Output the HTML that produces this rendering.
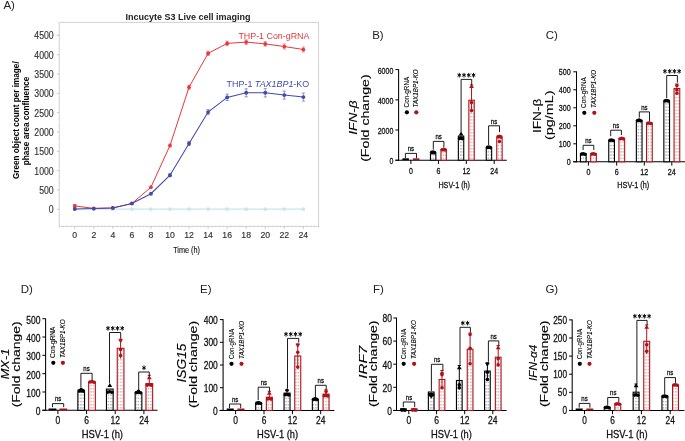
<!DOCTYPE html><html><head><meta charset="utf-8"><title>Figure</title><style>html,body{margin:0;padding:0;background:#fff;width:685px;height:441px;overflow:hidden}svg{display:block;will-change:transform;font-family:"Liberation Sans",sans-serif}.bp text{stroke:#111;stroke-width:0.28px}.bp text.lt{stroke-width:0.12px}.bp text.lg{stroke-width:0.1px}.bp text.pl{stroke:none}</style></head><body>
<svg width="685" height="441" viewBox="0 0 685 441">
<defs><pattern id="pk" width="2.5" height="3.2" patternUnits="userSpaceOnUse"><rect width="2.5" height="3.2" fill="#fdfdfd"/><rect x="0.3" y="1.0" width="1.3" height="1.0" fill="#8a8a8a"/></pattern><pattern id="pr" width="2.5" height="3.2" patternUnits="userSpaceOnUse"><rect width="2.5" height="3.2" fill="#fdfcfc"/><rect x="0.3" y="1.0" width="1.3" height="1.0" fill="#b89494"/></pattern></defs>
<rect width="685" height="441" fill="#fff"/>
<text x="3.4" y="8.6" font-size="11.5" fill="#222">A)</text>
<g>
<path d="M59.3 226.3V22.4H318.6V226.3" fill="none" stroke="#d2d2d2" stroke-width="1"/>
<line x1="58.8" y1="226.3" x2="319.1" y2="226.3" stroke="#d2d2d2" stroke-width="1"/>
<line x1="57.9" y1="222.18" x2="59.3" y2="222.18" stroke="#dadada" stroke-width="0.6"/>
<line x1="57.9" y1="215.74" x2="59.3" y2="215.74" stroke="#dadada" stroke-width="0.6"/>
<line x1="56.9" y1="209.3" x2="59.3" y2="209.3" stroke="#bdbdbd" stroke-width="0.8"/>
<line x1="57.9" y1="202.86" x2="59.3" y2="202.86" stroke="#dadada" stroke-width="0.6"/>
<line x1="57.9" y1="196.42" x2="59.3" y2="196.42" stroke="#dadada" stroke-width="0.6"/>
<line x1="56.9" y1="189.98" x2="59.3" y2="189.98" stroke="#bdbdbd" stroke-width="0.8"/>
<line x1="57.9" y1="183.54" x2="59.3" y2="183.54" stroke="#dadada" stroke-width="0.6"/>
<line x1="57.9" y1="177.1" x2="59.3" y2="177.1" stroke="#dadada" stroke-width="0.6"/>
<line x1="56.9" y1="170.66" x2="59.3" y2="170.66" stroke="#bdbdbd" stroke-width="0.8"/>
<line x1="57.9" y1="164.21" x2="59.3" y2="164.21" stroke="#dadada" stroke-width="0.6"/>
<line x1="57.9" y1="157.77" x2="59.3" y2="157.77" stroke="#dadada" stroke-width="0.6"/>
<line x1="56.9" y1="151.33" x2="59.3" y2="151.33" stroke="#bdbdbd" stroke-width="0.8"/>
<line x1="57.9" y1="144.89" x2="59.3" y2="144.89" stroke="#dadada" stroke-width="0.6"/>
<line x1="57.9" y1="138.45" x2="59.3" y2="138.45" stroke="#dadada" stroke-width="0.6"/>
<line x1="56.9" y1="132.01" x2="59.3" y2="132.01" stroke="#bdbdbd" stroke-width="0.8"/>
<line x1="57.9" y1="125.57" x2="59.3" y2="125.57" stroke="#dadada" stroke-width="0.6"/>
<line x1="57.9" y1="119.13" x2="59.3" y2="119.13" stroke="#dadada" stroke-width="0.6"/>
<line x1="56.9" y1="112.69" x2="59.3" y2="112.69" stroke="#bdbdbd" stroke-width="0.8"/>
<line x1="57.9" y1="106.25" x2="59.3" y2="106.25" stroke="#dadada" stroke-width="0.6"/>
<line x1="57.9" y1="99.81" x2="59.3" y2="99.81" stroke="#dadada" stroke-width="0.6"/>
<line x1="56.9" y1="93.37" x2="59.3" y2="93.37" stroke="#bdbdbd" stroke-width="0.8"/>
<line x1="57.9" y1="86.93" x2="59.3" y2="86.93" stroke="#dadada" stroke-width="0.6"/>
<line x1="57.9" y1="80.49" x2="59.3" y2="80.49" stroke="#dadada" stroke-width="0.6"/>
<line x1="56.9" y1="74.04" x2="59.3" y2="74.04" stroke="#bdbdbd" stroke-width="0.8"/>
<line x1="57.9" y1="67.6" x2="59.3" y2="67.6" stroke="#dadada" stroke-width="0.6"/>
<line x1="57.9" y1="61.16" x2="59.3" y2="61.16" stroke="#dadada" stroke-width="0.6"/>
<line x1="56.9" y1="54.72" x2="59.3" y2="54.72" stroke="#bdbdbd" stroke-width="0.8"/>
<line x1="57.9" y1="48.28" x2="59.3" y2="48.28" stroke="#dadada" stroke-width="0.6"/>
<line x1="57.9" y1="41.84" x2="59.3" y2="41.84" stroke="#dadada" stroke-width="0.6"/>
<line x1="56.9" y1="35.4" x2="59.3" y2="35.4" stroke="#bdbdbd" stroke-width="0.8"/>
<line x1="59.51" y1="226" x2="59.51" y2="227.3" stroke="#c4c4c4" stroke-width="0.7"/>
<line x1="63.32" y1="226" x2="63.32" y2="227.3" stroke="#c4c4c4" stroke-width="0.7"/>
<line x1="67.13" y1="226" x2="67.13" y2="227.3" stroke="#c4c4c4" stroke-width="0.7"/>
<line x1="70.94" y1="226" x2="70.94" y2="227.3" stroke="#c4c4c4" stroke-width="0.7"/>
<line x1="74.75" y1="226.3" x2="74.75" y2="228.7" stroke="#b8b8b8" stroke-width="0.8"/>
<line x1="78.56" y1="226" x2="78.56" y2="227.3" stroke="#c4c4c4" stroke-width="0.7"/>
<line x1="82.37" y1="226" x2="82.37" y2="227.3" stroke="#c4c4c4" stroke-width="0.7"/>
<line x1="86.18" y1="226" x2="86.18" y2="227.3" stroke="#c4c4c4" stroke-width="0.7"/>
<line x1="89.99" y1="226" x2="89.99" y2="227.3" stroke="#c4c4c4" stroke-width="0.7"/>
<line x1="93.8" y1="226.3" x2="93.8" y2="228.7" stroke="#b8b8b8" stroke-width="0.8"/>
<line x1="97.61" y1="226" x2="97.61" y2="227.3" stroke="#c4c4c4" stroke-width="0.7"/>
<line x1="101.42" y1="226" x2="101.42" y2="227.3" stroke="#c4c4c4" stroke-width="0.7"/>
<line x1="105.23" y1="226" x2="105.23" y2="227.3" stroke="#c4c4c4" stroke-width="0.7"/>
<line x1="109.04" y1="226" x2="109.04" y2="227.3" stroke="#c4c4c4" stroke-width="0.7"/>
<line x1="112.85" y1="226.3" x2="112.85" y2="228.7" stroke="#b8b8b8" stroke-width="0.8"/>
<line x1="116.66" y1="226" x2="116.66" y2="227.3" stroke="#c4c4c4" stroke-width="0.7"/>
<line x1="120.47" y1="226" x2="120.47" y2="227.3" stroke="#c4c4c4" stroke-width="0.7"/>
<line x1="124.28" y1="226" x2="124.28" y2="227.3" stroke="#c4c4c4" stroke-width="0.7"/>
<line x1="128.09" y1="226" x2="128.09" y2="227.3" stroke="#c4c4c4" stroke-width="0.7"/>
<line x1="131.9" y1="226.3" x2="131.9" y2="228.7" stroke="#b8b8b8" stroke-width="0.8"/>
<line x1="135.71" y1="226" x2="135.71" y2="227.3" stroke="#c4c4c4" stroke-width="0.7"/>
<line x1="139.52" y1="226" x2="139.52" y2="227.3" stroke="#c4c4c4" stroke-width="0.7"/>
<line x1="143.33" y1="226" x2="143.33" y2="227.3" stroke="#c4c4c4" stroke-width="0.7"/>
<line x1="147.14" y1="226" x2="147.14" y2="227.3" stroke="#c4c4c4" stroke-width="0.7"/>
<line x1="150.95" y1="226.3" x2="150.95" y2="228.7" stroke="#b8b8b8" stroke-width="0.8"/>
<line x1="154.76" y1="226" x2="154.76" y2="227.3" stroke="#c4c4c4" stroke-width="0.7"/>
<line x1="158.57" y1="226" x2="158.57" y2="227.3" stroke="#c4c4c4" stroke-width="0.7"/>
<line x1="162.38" y1="226" x2="162.38" y2="227.3" stroke="#c4c4c4" stroke-width="0.7"/>
<line x1="166.19" y1="226" x2="166.19" y2="227.3" stroke="#c4c4c4" stroke-width="0.7"/>
<line x1="170" y1="226.3" x2="170" y2="228.7" stroke="#b8b8b8" stroke-width="0.8"/>
<line x1="173.81" y1="226" x2="173.81" y2="227.3" stroke="#c4c4c4" stroke-width="0.7"/>
<line x1="177.62" y1="226" x2="177.62" y2="227.3" stroke="#c4c4c4" stroke-width="0.7"/>
<line x1="181.43" y1="226" x2="181.43" y2="227.3" stroke="#c4c4c4" stroke-width="0.7"/>
<line x1="185.24" y1="226" x2="185.24" y2="227.3" stroke="#c4c4c4" stroke-width="0.7"/>
<line x1="189.05" y1="226.3" x2="189.05" y2="228.7" stroke="#b8b8b8" stroke-width="0.8"/>
<line x1="192.86" y1="226" x2="192.86" y2="227.3" stroke="#c4c4c4" stroke-width="0.7"/>
<line x1="196.67" y1="226" x2="196.67" y2="227.3" stroke="#c4c4c4" stroke-width="0.7"/>
<line x1="200.48" y1="226" x2="200.48" y2="227.3" stroke="#c4c4c4" stroke-width="0.7"/>
<line x1="204.29" y1="226" x2="204.29" y2="227.3" stroke="#c4c4c4" stroke-width="0.7"/>
<line x1="208.1" y1="226.3" x2="208.1" y2="228.7" stroke="#b8b8b8" stroke-width="0.8"/>
<line x1="211.91" y1="226" x2="211.91" y2="227.3" stroke="#c4c4c4" stroke-width="0.7"/>
<line x1="215.72" y1="226" x2="215.72" y2="227.3" stroke="#c4c4c4" stroke-width="0.7"/>
<line x1="219.53" y1="226" x2="219.53" y2="227.3" stroke="#c4c4c4" stroke-width="0.7"/>
<line x1="223.34" y1="226" x2="223.34" y2="227.3" stroke="#c4c4c4" stroke-width="0.7"/>
<line x1="227.15" y1="226.3" x2="227.15" y2="228.7" stroke="#b8b8b8" stroke-width="0.8"/>
<line x1="230.96" y1="226" x2="230.96" y2="227.3" stroke="#c4c4c4" stroke-width="0.7"/>
<line x1="234.77" y1="226" x2="234.77" y2="227.3" stroke="#c4c4c4" stroke-width="0.7"/>
<line x1="238.58" y1="226" x2="238.58" y2="227.3" stroke="#c4c4c4" stroke-width="0.7"/>
<line x1="242.39" y1="226" x2="242.39" y2="227.3" stroke="#c4c4c4" stroke-width="0.7"/>
<line x1="246.2" y1="226.3" x2="246.2" y2="228.7" stroke="#b8b8b8" stroke-width="0.8"/>
<line x1="250.01" y1="226" x2="250.01" y2="227.3" stroke="#c4c4c4" stroke-width="0.7"/>
<line x1="253.82" y1="226" x2="253.82" y2="227.3" stroke="#c4c4c4" stroke-width="0.7"/>
<line x1="257.63" y1="226" x2="257.63" y2="227.3" stroke="#c4c4c4" stroke-width="0.7"/>
<line x1="261.44" y1="226" x2="261.44" y2="227.3" stroke="#c4c4c4" stroke-width="0.7"/>
<line x1="265.25" y1="226.3" x2="265.25" y2="228.7" stroke="#b8b8b8" stroke-width="0.8"/>
<line x1="269.06" y1="226" x2="269.06" y2="227.3" stroke="#c4c4c4" stroke-width="0.7"/>
<line x1="272.87" y1="226" x2="272.87" y2="227.3" stroke="#c4c4c4" stroke-width="0.7"/>
<line x1="276.68" y1="226" x2="276.68" y2="227.3" stroke="#c4c4c4" stroke-width="0.7"/>
<line x1="280.49" y1="226" x2="280.49" y2="227.3" stroke="#c4c4c4" stroke-width="0.7"/>
<line x1="284.3" y1="226.3" x2="284.3" y2="228.7" stroke="#b8b8b8" stroke-width="0.8"/>
<line x1="288.11" y1="226" x2="288.11" y2="227.3" stroke="#c4c4c4" stroke-width="0.7"/>
<line x1="291.92" y1="226" x2="291.92" y2="227.3" stroke="#c4c4c4" stroke-width="0.7"/>
<line x1="295.73" y1="226" x2="295.73" y2="227.3" stroke="#c4c4c4" stroke-width="0.7"/>
<line x1="299.54" y1="226" x2="299.54" y2="227.3" stroke="#c4c4c4" stroke-width="0.7"/>
<line x1="303.35" y1="226.3" x2="303.35" y2="228.7" stroke="#b8b8b8" stroke-width="0.8"/>
<line x1="307.16" y1="226" x2="307.16" y2="227.3" stroke="#c4c4c4" stroke-width="0.7"/>
<line x1="310.97" y1="226" x2="310.97" y2="227.3" stroke="#c4c4c4" stroke-width="0.7"/>
<line x1="314.78" y1="226" x2="314.78" y2="227.3" stroke="#c4c4c4" stroke-width="0.7"/>
<line x1="318.59" y1="226" x2="318.59" y2="227.3" stroke="#c4c4c4" stroke-width="0.7"/>
<text x="53.7" y="213.2" font-size="10.3" text-anchor="end" fill="#333" textLength="4.85" lengthAdjust="spacingAndGlyphs" stroke="#333" stroke-width="0.15">0</text>
<text x="53.7" y="193.88" font-size="10.3" text-anchor="end" fill="#333" textLength="14.55" lengthAdjust="spacingAndGlyphs" stroke="#333" stroke-width="0.15">500</text>
<text x="53.7" y="174.56" font-size="10.3" text-anchor="end" fill="#333" textLength="19.4" lengthAdjust="spacingAndGlyphs" stroke="#333" stroke-width="0.15">1000</text>
<text x="53.7" y="155.23" font-size="10.3" text-anchor="end" fill="#333" textLength="19.4" lengthAdjust="spacingAndGlyphs" stroke="#333" stroke-width="0.15">1500</text>
<text x="53.7" y="135.91" font-size="10.3" text-anchor="end" fill="#333" textLength="19.4" lengthAdjust="spacingAndGlyphs" stroke="#333" stroke-width="0.15">2000</text>
<text x="53.7" y="116.59" font-size="10.3" text-anchor="end" fill="#333" textLength="19.4" lengthAdjust="spacingAndGlyphs" stroke="#333" stroke-width="0.15">2500</text>
<text x="53.7" y="97.27" font-size="10.3" text-anchor="end" fill="#333" textLength="19.4" lengthAdjust="spacingAndGlyphs" stroke="#333" stroke-width="0.15">3000</text>
<text x="53.7" y="77.94" font-size="10.3" text-anchor="end" fill="#333" textLength="19.4" lengthAdjust="spacingAndGlyphs" stroke="#333" stroke-width="0.15">3500</text>
<text x="53.7" y="58.62" font-size="10.3" text-anchor="end" fill="#333" textLength="19.4" lengthAdjust="spacingAndGlyphs" stroke="#333" stroke-width="0.15">4000</text>
<text x="53.7" y="39.3" font-size="10.3" text-anchor="end" fill="#333" textLength="19.4" lengthAdjust="spacingAndGlyphs" stroke="#333" stroke-width="0.15">4500</text>
<text x="74.75" y="238.1" font-size="8.7" text-anchor="middle" fill="#333" stroke="#333" stroke-width="0.15">0</text>
<text x="93.8" y="238.1" font-size="8.7" text-anchor="middle" fill="#333" stroke="#333" stroke-width="0.15">2</text>
<text x="112.85" y="238.1" font-size="8.7" text-anchor="middle" fill="#333" stroke="#333" stroke-width="0.15">4</text>
<text x="131.9" y="238.1" font-size="8.7" text-anchor="middle" fill="#333" stroke="#333" stroke-width="0.15">6</text>
<text x="150.95" y="238.1" font-size="8.7" text-anchor="middle" fill="#333" stroke="#333" stroke-width="0.15">8</text>
<text x="170" y="238.1" font-size="8.7" text-anchor="middle" fill="#333" stroke="#333" stroke-width="0.15">10</text>
<text x="189.05" y="238.1" font-size="8.7" text-anchor="middle" fill="#333" stroke="#333" stroke-width="0.15">12</text>
<text x="208.1" y="238.1" font-size="8.7" text-anchor="middle" fill="#333" stroke="#333" stroke-width="0.15">14</text>
<text x="227.15" y="238.1" font-size="8.7" text-anchor="middle" fill="#333" stroke="#333" stroke-width="0.15">16</text>
<text x="246.2" y="238.1" font-size="8.7" text-anchor="middle" fill="#333" stroke="#333" stroke-width="0.15">18</text>
<text x="265.25" y="238.1" font-size="8.7" text-anchor="middle" fill="#333" stroke="#333" stroke-width="0.15">20</text>
<text x="284.3" y="238.1" font-size="8.7" text-anchor="middle" fill="#333" stroke="#333" stroke-width="0.15">22</text>
<text x="303.35" y="238.1" font-size="8.7" text-anchor="middle" fill="#333" stroke="#333" stroke-width="0.15">24</text>
<text x="186.6" y="253" font-size="8.4" text-anchor="middle" fill="#111" textLength="26.8" lengthAdjust="spacingAndGlyphs" stroke="#111" stroke-width="0.12">Time (h)</text>
<text x="187.9" y="20.1" font-size="9" text-anchor="middle" font-weight="bold" fill="#222" textLength="125" lengthAdjust="spacingAndGlyphs">Incucyte S3 Live cell imaging</text>
<text transform="translate(18.6 120.2) rotate(-90)" font-size="9" text-anchor="middle" font-weight="bold" textLength="117.7" lengthAdjust="spacingAndGlyphs">Green object count per image/</text>
<text transform="translate(29 121) rotate(-90)" font-size="9" text-anchor="middle" font-weight="bold" textLength="88.7" lengthAdjust="spacingAndGlyphs">phase area confluence</text>
<polyline points="74.75,209.1 93.8,209.1 112.85,209.1 131.9,209.1 150.95,209.1 170,209.1 189.05,209.1 208.1,209.1 227.15,209.1 246.2,209.1 265.25,209.1 284.3,209.1 303.35,209.1" fill="none" stroke="#c6e7ee" stroke-width="1.3"/>
<circle cx="74.75" cy="209.1" r="1.9" fill="#c6e7ee"/>
<circle cx="93.8" cy="209.1" r="1.9" fill="#c6e7ee"/>
<circle cx="112.85" cy="209.1" r="1.9" fill="#c6e7ee"/>
<circle cx="131.9" cy="209.1" r="1.9" fill="#c6e7ee"/>
<circle cx="150.95" cy="209.1" r="1.9" fill="#c6e7ee"/>
<circle cx="170" cy="209.1" r="1.9" fill="#c6e7ee"/>
<circle cx="189.05" cy="209.1" r="1.9" fill="#c6e7ee"/>
<circle cx="208.1" cy="209.1" r="1.9" fill="#c6e7ee"/>
<circle cx="227.15" cy="209.1" r="1.9" fill="#c6e7ee"/>
<circle cx="246.2" cy="209.1" r="1.9" fill="#c6e7ee"/>
<circle cx="265.25" cy="209.1" r="1.9" fill="#c6e7ee"/>
<circle cx="284.3" cy="209.1" r="1.9" fill="#c6e7ee"/>
<circle cx="303.35" cy="209.1" r="1.9" fill="#c6e7ee"/>
<polyline points="74.75,205.9 93.8,208.4 112.85,207.9 131.9,203.5 150.95,187.2 170,145.5 189.05,87.2 208.1,53.4 227.15,43.4 246.2,42.1 265.25,43.9 284.3,46.5 303.35,49.5" fill="none" stroke="#e8363c" stroke-width="1.0"/>
<line x1="74.75" y1="204.4" x2="74.75" y2="207.4" stroke="#e8363c" stroke-width="0.7" opacity="0.8"/>
<line x1="73.15" y1="204.4" x2="76.35" y2="204.4" stroke="#e8363c" stroke-width="0.7" opacity="0.8"/>
<line x1="73.15" y1="207.4" x2="76.35" y2="207.4" stroke="#e8363c" stroke-width="0.7" opacity="0.8"/>
<circle cx="74.75" cy="205.9" r="1.85" fill="#e8363c"/>
<circle cx="93.8" cy="208.4" r="1.85" fill="#e8363c"/>
<circle cx="112.85" cy="207.9" r="1.85" fill="#e8363c"/>
<circle cx="131.9" cy="203.5" r="1.85" fill="#e8363c"/>
<circle cx="150.95" cy="187.2" r="1.85" fill="#e8363c"/>
<line x1="170" y1="144" x2="170" y2="147" stroke="#e8363c" stroke-width="0.7" opacity="0.8"/>
<line x1="168.4" y1="144" x2="171.6" y2="144" stroke="#e8363c" stroke-width="0.7" opacity="0.8"/>
<line x1="168.4" y1="147" x2="171.6" y2="147" stroke="#e8363c" stroke-width="0.7" opacity="0.8"/>
<circle cx="170" cy="145.5" r="1.85" fill="#e8363c"/>
<line x1="189.05" y1="85.2" x2="189.05" y2="89.2" stroke="#e8363c" stroke-width="0.7" opacity="0.8"/>
<line x1="187.45" y1="85.2" x2="190.65" y2="85.2" stroke="#e8363c" stroke-width="0.7" opacity="0.8"/>
<line x1="187.45" y1="89.2" x2="190.65" y2="89.2" stroke="#e8363c" stroke-width="0.7" opacity="0.8"/>
<circle cx="189.05" cy="87.2" r="1.85" fill="#e8363c"/>
<line x1="208.1" y1="51.2" x2="208.1" y2="55.6" stroke="#e8363c" stroke-width="0.7" opacity="0.8"/>
<line x1="206.5" y1="51.2" x2="209.7" y2="51.2" stroke="#e8363c" stroke-width="0.7" opacity="0.8"/>
<line x1="206.5" y1="55.6" x2="209.7" y2="55.6" stroke="#e8363c" stroke-width="0.7" opacity="0.8"/>
<circle cx="208.1" cy="53.4" r="1.85" fill="#e8363c"/>
<line x1="227.15" y1="41.2" x2="227.15" y2="45.6" stroke="#e8363c" stroke-width="0.7" opacity="0.8"/>
<line x1="225.55" y1="41.2" x2="228.75" y2="41.2" stroke="#e8363c" stroke-width="0.7" opacity="0.8"/>
<line x1="225.55" y1="45.6" x2="228.75" y2="45.6" stroke="#e8363c" stroke-width="0.7" opacity="0.8"/>
<circle cx="227.15" cy="43.4" r="1.85" fill="#e8363c"/>
<line x1="246.2" y1="39.9" x2="246.2" y2="44.3" stroke="#e8363c" stroke-width="0.7" opacity="0.8"/>
<line x1="244.6" y1="39.9" x2="247.8" y2="39.9" stroke="#e8363c" stroke-width="0.7" opacity="0.8"/>
<line x1="244.6" y1="44.3" x2="247.8" y2="44.3" stroke="#e8363c" stroke-width="0.7" opacity="0.8"/>
<circle cx="246.2" cy="42.1" r="1.85" fill="#e8363c"/>
<line x1="265.25" y1="41.7" x2="265.25" y2="46.1" stroke="#e8363c" stroke-width="0.7" opacity="0.8"/>
<line x1="263.65" y1="41.7" x2="266.85" y2="41.7" stroke="#e8363c" stroke-width="0.7" opacity="0.8"/>
<line x1="263.65" y1="46.1" x2="266.85" y2="46.1" stroke="#e8363c" stroke-width="0.7" opacity="0.8"/>
<circle cx="265.25" cy="43.9" r="1.85" fill="#e8363c"/>
<line x1="284.3" y1="44" x2="284.3" y2="49" stroke="#e8363c" stroke-width="0.7" opacity="0.8"/>
<line x1="282.7" y1="44" x2="285.9" y2="44" stroke="#e8363c" stroke-width="0.7" opacity="0.8"/>
<line x1="282.7" y1="49" x2="285.9" y2="49" stroke="#e8363c" stroke-width="0.7" opacity="0.8"/>
<circle cx="284.3" cy="46.5" r="1.85" fill="#e8363c"/>
<line x1="303.35" y1="47" x2="303.35" y2="52" stroke="#e8363c" stroke-width="0.7" opacity="0.8"/>
<line x1="301.75" y1="47" x2="304.95" y2="47" stroke="#e8363c" stroke-width="0.7" opacity="0.8"/>
<line x1="301.75" y1="52" x2="304.95" y2="52" stroke="#e8363c" stroke-width="0.7" opacity="0.8"/>
<circle cx="303.35" cy="49.5" r="1.85" fill="#e8363c"/>
<polyline points="74.75,209 93.8,208.6 112.85,207.9 131.9,203.4 150.95,193.7 170,175.2 189.05,143.5 208.1,112.1 227.15,97.4 246.2,92.8 265.25,92.8 284.3,95.1 303.35,97.1" fill="none" stroke="#424aab" stroke-width="1.05"/>
<circle cx="74.75" cy="209" r="1.95" fill="#424aab"/>
<circle cx="93.8" cy="208.6" r="1.95" fill="#424aab"/>
<circle cx="112.85" cy="207.9" r="1.95" fill="#424aab"/>
<circle cx="131.9" cy="203.4" r="1.95" fill="#424aab"/>
<circle cx="150.95" cy="193.7" r="1.95" fill="#424aab"/>
<line x1="170" y1="173.7" x2="170" y2="176.7" stroke="#424aab" stroke-width="0.7" opacity="0.8"/>
<line x1="168.4" y1="173.7" x2="171.6" y2="173.7" stroke="#424aab" stroke-width="0.7" opacity="0.8"/>
<line x1="168.4" y1="176.7" x2="171.6" y2="176.7" stroke="#424aab" stroke-width="0.7" opacity="0.8"/>
<circle cx="170" cy="175.2" r="1.95" fill="#424aab"/>
<line x1="189.05" y1="141.5" x2="189.05" y2="145.5" stroke="#424aab" stroke-width="0.7" opacity="0.8"/>
<line x1="187.45" y1="141.5" x2="190.65" y2="141.5" stroke="#424aab" stroke-width="0.7" opacity="0.8"/>
<line x1="187.45" y1="145.5" x2="190.65" y2="145.5" stroke="#424aab" stroke-width="0.7" opacity="0.8"/>
<circle cx="189.05" cy="143.5" r="1.95" fill="#424aab"/>
<line x1="208.1" y1="109.6" x2="208.1" y2="114.6" stroke="#424aab" stroke-width="0.7" opacity="0.8"/>
<line x1="206.5" y1="109.6" x2="209.7" y2="109.6" stroke="#424aab" stroke-width="0.7" opacity="0.8"/>
<line x1="206.5" y1="114.6" x2="209.7" y2="114.6" stroke="#424aab" stroke-width="0.7" opacity="0.8"/>
<circle cx="208.1" cy="112.1" r="1.95" fill="#424aab"/>
<line x1="227.15" y1="94.2" x2="227.15" y2="100.6" stroke="#424aab" stroke-width="0.7" opacity="0.8"/>
<line x1="225.55" y1="94.2" x2="228.75" y2="94.2" stroke="#424aab" stroke-width="0.7" opacity="0.8"/>
<line x1="225.55" y1="100.6" x2="228.75" y2="100.6" stroke="#424aab" stroke-width="0.7" opacity="0.8"/>
<circle cx="227.15" cy="97.4" r="1.95" fill="#424aab"/>
<line x1="246.2" y1="88.8" x2="246.2" y2="96.8" stroke="#424aab" stroke-width="0.7" opacity="0.8"/>
<line x1="244.6" y1="88.8" x2="247.8" y2="88.8" stroke="#424aab" stroke-width="0.7" opacity="0.8"/>
<line x1="244.6" y1="96.8" x2="247.8" y2="96.8" stroke="#424aab" stroke-width="0.7" opacity="0.8"/>
<circle cx="246.2" cy="92.8" r="1.95" fill="#424aab"/>
<line x1="265.25" y1="88.6" x2="265.25" y2="97" stroke="#424aab" stroke-width="0.7" opacity="0.8"/>
<line x1="263.65" y1="88.6" x2="266.85" y2="88.6" stroke="#424aab" stroke-width="0.7" opacity="0.8"/>
<line x1="263.65" y1="97" x2="266.85" y2="97" stroke="#424aab" stroke-width="0.7" opacity="0.8"/>
<circle cx="265.25" cy="92.8" r="1.95" fill="#424aab"/>
<line x1="284.3" y1="91.1" x2="284.3" y2="99.1" stroke="#424aab" stroke-width="0.7" opacity="0.8"/>
<line x1="282.7" y1="91.1" x2="285.9" y2="91.1" stroke="#424aab" stroke-width="0.7" opacity="0.8"/>
<line x1="282.7" y1="99.1" x2="285.9" y2="99.1" stroke="#424aab" stroke-width="0.7" opacity="0.8"/>
<circle cx="284.3" cy="95.1" r="1.95" fill="#424aab"/>
<line x1="303.35" y1="93.1" x2="303.35" y2="101.1" stroke="#424aab" stroke-width="0.7" opacity="0.8"/>
<line x1="301.75" y1="93.1" x2="304.95" y2="93.1" stroke="#424aab" stroke-width="0.7" opacity="0.8"/>
<line x1="301.75" y1="101.1" x2="304.95" y2="101.1" stroke="#424aab" stroke-width="0.7" opacity="0.8"/>
<circle cx="303.35" cy="97.1" r="1.95" fill="#424aab"/>
<text x="309.4" y="39.1" font-size="8.9" text-anchor="end" fill="#e8363c" textLength="71" lengthAdjust="spacingAndGlyphs">THP-1 Con-gRNA</text>
<text x="309.2" y="87" font-size="8.9" text-anchor="end" fill="#424aab" textLength="82.6" lengthAdjust="spacingAndGlyphs">THP-1 <tspan font-style="italic">TAX1BP1</tspan>-KO</text>
</g>
<g class="bp">
<line x1="398.6" y1="69.2" x2="398.6" y2="160.7" stroke="#000" stroke-width="1.05"/>
<line x1="395.4" y1="160.2" x2="506.8" y2="160.2" stroke="#000" stroke-width="1.05"/>
<line x1="395.4" y1="69.6" x2="398.6" y2="69.6" stroke="#000" stroke-width="1"/>
<text x="393.3" y="73.81" font-size="8.7" text-anchor="end" fill="#111" textLength="15.6" lengthAdjust="spacingAndGlyphs">6000</text>
<line x1="395.4" y1="99.9" x2="398.6" y2="99.9" stroke="#000" stroke-width="1"/>
<text x="393.3" y="104.11" font-size="8.7" text-anchor="end" fill="#111" textLength="15.6" lengthAdjust="spacingAndGlyphs">4000</text>
<line x1="395.4" y1="130" x2="398.6" y2="130" stroke="#000" stroke-width="1"/>
<text x="393.3" y="134.21" font-size="8.7" text-anchor="end" fill="#111" textLength="15.6" lengthAdjust="spacingAndGlyphs">2000</text>
<line x1="395.4" y1="160.2" x2="398.6" y2="160.2" stroke="#000" stroke-width="1"/>
<text x="393.3" y="164.41" font-size="8.7" text-anchor="end" fill="#111" textLength="3.9" lengthAdjust="spacingAndGlyphs">0</text>
<line x1="410.9" y1="160.2" x2="410.9" y2="164" stroke="#000" stroke-width="1"/>
<text x="410.9" y="174.2" font-size="8.2" text-anchor="middle" fill="#111" textLength="3.9" lengthAdjust="spacingAndGlyphs">0</text>
<line x1="438.4" y1="160.2" x2="438.4" y2="164" stroke="#000" stroke-width="1"/>
<text x="438.4" y="174.2" font-size="8.2" text-anchor="middle" fill="#111" textLength="3.9" lengthAdjust="spacingAndGlyphs">6</text>
<line x1="466.3" y1="160.2" x2="466.3" y2="164" stroke="#000" stroke-width="1"/>
<text x="466.3" y="174.2" font-size="8.2" text-anchor="middle" fill="#111" textLength="7.8" lengthAdjust="spacingAndGlyphs">12</text>
<line x1="494.2" y1="160.2" x2="494.2" y2="164" stroke="#000" stroke-width="1"/>
<text x="494.2" y="174.2" font-size="8.2" text-anchor="middle" fill="#111" textLength="7.8" lengthAdjust="spacingAndGlyphs">24</text>
<text x="454.2" y="188" font-size="9.2" text-anchor="middle" fill="#111" textLength="31.6" lengthAdjust="spacingAndGlyphs">HSV-1 (h)</text>
<text x="372.2" y="38.7" font-size="11.5" fill="#222" class="pl">B)</text>
<text transform="translate(356.9 117.6) rotate(-90)" font-size="10.2" text-anchor="middle" font-style="italic" textLength="34.2" lengthAdjust="spacingAndGlyphs" class="lt">IFN-β</text>
<text transform="translate(369 118.1) rotate(-90)" font-size="10.4" text-anchor="middle" textLength="87.5" lengthAdjust="spacingAndGlyphs" class="lt">(Fold change)</text>
<circle cx="406.9" cy="112.3" r="2.1" fill="#000"/>
<circle cx="416.3" cy="112.3" r="2.1" fill="#b01218"/>
<text transform="translate(409 107.4) rotate(-90)" font-size="6.4" textLength="30.6" lengthAdjust="spacingAndGlyphs" class="lg">Con-gRNA</text>
<text transform="translate(418.4 107.4) rotate(-90)" font-size="6.4" font-style="italic" textLength="38.1" lengthAdjust="spacingAndGlyphs" class="lg">TAX1BP1-KO</text>
<rect x="402.4" y="158.3" width="6.5" height="1.9" fill="#000" stroke="none" stroke-width="1"/>
<rect x="412.9" y="158.3" width="6.5" height="1.9" fill="#b01218" stroke="none" stroke-width="1"/>
<path d="M405.4 158V153.4H416.5V158" fill="none" stroke="#111" stroke-width="0.95"/>
<text x="410.95" y="151.1" font-size="7.7" text-anchor="middle" fill="#111" textLength="6.39" lengthAdjust="spacingAndGlyphs">ns</text>
<rect x="430.45" y="153.8" width="5.4" height="6.4" fill="url(#pk)" stroke="#000" stroke-width="1.1"/>
<circle cx="431.7" cy="152.3" r="1.8" fill="#000"/>
<circle cx="434.6" cy="152.5" r="1.8" fill="#000"/>
<circle cx="433.15" cy="151.95" r="1.8" fill="#000"/>
<rect x="440.95" y="149.5" width="5.4" height="10.7" fill="url(#pr)" stroke="#b01218" stroke-width="1.1"/>
<circle cx="442.2" cy="149.7" r="1.8" fill="#b01218"/>
<circle cx="445.1" cy="149.9" r="1.8" fill="#b01218"/>
<circle cx="443.65" cy="149.35" r="1.8" fill="#b01218"/>
<path d="M433.3 149.6V141.4H443.9V147.4" fill="none" stroke="#111" stroke-width="0.95"/>
<text x="438.6" y="139.1" font-size="7.7" text-anchor="middle" fill="#111" textLength="6.39" lengthAdjust="spacingAndGlyphs">ns</text>
<rect x="458.35" y="136.1" width="5.4" height="24.1" fill="url(#pk)" stroke="#000" stroke-width="1.1"/>
<circle cx="459.6" cy="138.5" r="1.8" fill="#000"/>
<circle cx="462.5" cy="138.7" r="1.8" fill="#000"/>
<circle cx="461.05" cy="138.15" r="1.8" fill="#000"/>
<path d="M461.05 131.5l2.4 4h-4.8z" fill="#000" stroke="none" stroke-width="1"/>
<rect x="468.85" y="100.2" width="5.4" height="60" fill="url(#pr)" stroke="#b01218" stroke-width="1.1"/>
<line x1="471.55" y1="84.9" x2="471.55" y2="100.2" stroke="#b01218" stroke-width="1"/>
<line x1="469.95" y1="84.9" x2="473.15" y2="84.9" stroke="#b01218" stroke-width="1"/>
<line x1="471.55" y1="100.2" x2="471.55" y2="112.4" stroke="#b01218" stroke-width="1"/>
<path d="M471.55 84l2.4 4h-4.8z" fill="#b01218" stroke="none" stroke-width="1"/>
<circle cx="471.55" cy="102.5" r="1.8" fill="#b01218"/>
<circle cx="471.55" cy="110.5" r="1.8" fill="#b01218"/>
<path d="M461.1 132.3V79.4H471.7V84.9" fill="none" stroke="#111" stroke-width="0.95"/>
<path d="M459.27 72.9L459.27 77.5M457.46 74.05L461.09 76.35M457.46 76.35L461.09 74.05" fill="none" stroke="#111" stroke-width="1"/>
<circle cx="459.27" cy="75.2" r="0.85" fill="#111"/>
<path d="M464.02 72.9L464.02 77.5M462.21 74.05L465.84 76.35M462.21 76.35L465.84 74.05" fill="none" stroke="#111" stroke-width="1"/>
<circle cx="464.02" cy="75.2" r="0.85" fill="#111"/>
<path d="M468.77 72.9L468.77 77.5M466.96 74.05L470.59 76.35M466.96 76.35L470.59 74.05" fill="none" stroke="#111" stroke-width="1"/>
<circle cx="468.77" cy="75.2" r="0.85" fill="#111"/>
<path d="M473.52 72.9L473.52 77.5M471.71 74.05L475.34 76.35M471.71 76.35L475.34 74.05" fill="none" stroke="#111" stroke-width="1"/>
<circle cx="473.52" cy="75.2" r="0.85" fill="#111"/>
<rect x="486.25" y="147.9" width="5.4" height="12.3" fill="url(#pk)" stroke="#000" stroke-width="1.1"/>
<circle cx="487.5" cy="147.4" r="1.8" fill="#000"/>
<circle cx="490.4" cy="147.6" r="1.8" fill="#000"/>
<circle cx="488.95" cy="147.05" r="1.8" fill="#000"/>
<rect x="496.75" y="137.7" width="5.4" height="22.5" fill="url(#pr)" stroke="#b01218" stroke-width="1.1"/>
<circle cx="498" cy="136.7" r="1.8" fill="#b01218"/>
<circle cx="500.9" cy="136.9" r="1.8" fill="#b01218"/>
<circle cx="499.45" cy="136.35" r="1.8" fill="#b01218"/>
<circle cx="499.45" cy="141.5" r="1.8" fill="#b01218"/>
<path d="M488.6 145V125.8H499.5V132.2" fill="none" stroke="#111" stroke-width="0.95"/>
<text x="494.05" y="123.5" font-size="7.7" text-anchor="middle" fill="#111" textLength="6.39" lengthAdjust="spacingAndGlyphs">ns</text>
</g>
<g class="bp">
<line x1="576.5" y1="71.4" x2="576.5" y2="162.3" stroke="#000" stroke-width="1.05"/>
<line x1="573.1" y1="161.8" x2="685.5" y2="161.8" stroke="#000" stroke-width="1.05"/>
<line x1="573.3" y1="71.8" x2="576.5" y2="71.8" stroke="#000" stroke-width="1"/>
<text x="570.6" y="74.61" font-size="8.7" text-anchor="end" fill="#111" textLength="11.91" lengthAdjust="spacingAndGlyphs">500</text>
<line x1="573.3" y1="89.8" x2="576.5" y2="89.8" stroke="#000" stroke-width="1"/>
<text x="570.6" y="92.61" font-size="8.7" text-anchor="end" fill="#111" textLength="11.91" lengthAdjust="spacingAndGlyphs">400</text>
<line x1="573.3" y1="107.8" x2="576.5" y2="107.8" stroke="#000" stroke-width="1"/>
<text x="570.6" y="110.61" font-size="8.7" text-anchor="end" fill="#111" textLength="11.91" lengthAdjust="spacingAndGlyphs">300</text>
<line x1="573.3" y1="125.8" x2="576.5" y2="125.8" stroke="#000" stroke-width="1"/>
<text x="570.6" y="128.61" font-size="8.7" text-anchor="end" fill="#111" textLength="11.91" lengthAdjust="spacingAndGlyphs">200</text>
<line x1="573.3" y1="143.8" x2="576.5" y2="143.8" stroke="#000" stroke-width="1"/>
<text x="570.6" y="146.61" font-size="8.7" text-anchor="end" fill="#111" textLength="11.91" lengthAdjust="spacingAndGlyphs">100</text>
<line x1="573.3" y1="161.8" x2="576.5" y2="161.8" stroke="#000" stroke-width="1"/>
<text x="570.6" y="164.61" font-size="8.7" text-anchor="end" fill="#111" textLength="3.97" lengthAdjust="spacingAndGlyphs">0</text>
<line x1="588.4" y1="161.8" x2="588.4" y2="165.6" stroke="#000" stroke-width="1"/>
<text x="588.4" y="174.5" font-size="8.2" text-anchor="middle" fill="#111" textLength="3.97" lengthAdjust="spacingAndGlyphs">0</text>
<line x1="616.7" y1="161.8" x2="616.7" y2="165.6" stroke="#000" stroke-width="1"/>
<text x="616.7" y="174.5" font-size="8.2" text-anchor="middle" fill="#111" textLength="3.97" lengthAdjust="spacingAndGlyphs">6</text>
<line x1="644.3" y1="161.8" x2="644.3" y2="165.6" stroke="#000" stroke-width="1"/>
<text x="644.3" y="174.5" font-size="8.2" text-anchor="middle" fill="#111" textLength="7.94" lengthAdjust="spacingAndGlyphs">12</text>
<line x1="671.8" y1="161.8" x2="671.8" y2="165.6" stroke="#000" stroke-width="1"/>
<text x="671.8" y="174.5" font-size="8.2" text-anchor="middle" fill="#111" textLength="7.94" lengthAdjust="spacingAndGlyphs">24</text>
<text x="633.3" y="188" font-size="9.2" text-anchor="middle" fill="#111" textLength="31.9" lengthAdjust="spacingAndGlyphs">HSV-1 (h)</text>
<text x="545.8" y="38.7" font-size="11.5" fill="#222" class="pl">C)</text>
<text transform="translate(541.1 115.8) rotate(-90)" font-size="11.6" text-anchor="middle" textLength="34.6" lengthAdjust="spacingAndGlyphs" class="lt">IFN-β</text>
<text transform="translate(552.7 115.3) rotate(-90)" font-size="11.8" text-anchor="middle" textLength="49.6" lengthAdjust="spacingAndGlyphs" class="lt">(pg/mL)</text>
<circle cx="584.3" cy="112.8" r="2.1" fill="#000"/>
<circle cx="594.3" cy="112.8" r="2.1" fill="#b01218"/>
<text transform="translate(586.4 107.9) rotate(-90)" font-size="6.4" textLength="30.6" lengthAdjust="spacingAndGlyphs" class="lg">Con-gRNA</text>
<text transform="translate(596.4 107.9) rotate(-90)" font-size="6.4" font-style="italic" textLength="38.1" lengthAdjust="spacingAndGlyphs" class="lg">TAX1BP1-KO</text>
<rect x="580.45" y="153.8" width="5.7" height="8" fill="url(#pk)" stroke="#000" stroke-width="1.1"/>
<circle cx="581.7" cy="154.1" r="1.8" fill="#000"/>
<circle cx="584.9" cy="154.3" r="1.8" fill="#000"/>
<circle cx="583.3" cy="153.75" r="1.8" fill="#000"/>
<rect x="590.65" y="153.8" width="5.7" height="8" fill="url(#pr)" stroke="#b01218" stroke-width="1.1"/>
<circle cx="591.9" cy="154.1" r="1.8" fill="#b01218"/>
<circle cx="595.1" cy="154.3" r="1.8" fill="#b01218"/>
<circle cx="593.5" cy="153.75" r="1.8" fill="#b01218"/>
<path d="M583.1 150V145.3H593.8V150" fill="none" stroke="#111" stroke-width="0.95"/>
<text x="588.45" y="143" font-size="7.7" text-anchor="middle" fill="#111" textLength="6.39" lengthAdjust="spacingAndGlyphs">ns</text>
<rect x="608.75" y="140.9" width="5.7" height="20.9" fill="url(#pk)" stroke="#000" stroke-width="1.1"/>
<circle cx="610" cy="140.3" r="1.8" fill="#000"/>
<circle cx="613.2" cy="140.5" r="1.8" fill="#000"/>
<circle cx="611.6" cy="139.95" r="1.8" fill="#000"/>
<rect x="618.95" y="138.6" width="5.7" height="23.2" fill="url(#pr)" stroke="#b01218" stroke-width="1.1"/>
<circle cx="620.2" cy="138.7" r="1.8" fill="#b01218"/>
<circle cx="623.4" cy="138.9" r="1.8" fill="#b01218"/>
<circle cx="621.8" cy="138.35" r="1.8" fill="#b01218"/>
<path d="M610.7 136.2V130.2H621.4V135" fill="none" stroke="#111" stroke-width="0.95"/>
<text x="616.05" y="127.9" font-size="7.7" text-anchor="middle" fill="#111" textLength="6.39" lengthAdjust="spacingAndGlyphs">ns</text>
<rect x="636.35" y="120.7" width="5.7" height="41.1" fill="url(#pk)" stroke="#000" stroke-width="1.1"/>
<circle cx="637.6" cy="120.5" r="1.8" fill="#000"/>
<circle cx="640.8" cy="120.7" r="1.8" fill="#000"/>
<circle cx="639.2" cy="120.15" r="1.8" fill="#000"/>
<circle cx="639.2" cy="120.5" r="1.8" fill="#000"/>
<rect x="646.55" y="123.1" width="5.7" height="38.7" fill="url(#pr)" stroke="#b01218" stroke-width="1.1"/>
<circle cx="647.8" cy="123.3" r="1.8" fill="#b01218"/>
<circle cx="651" cy="123.5" r="1.8" fill="#b01218"/>
<circle cx="649.4" cy="122.95" r="1.8" fill="#b01218"/>
<path d="M639.3 117.6V111.9H649.5V121.4" fill="none" stroke="#111" stroke-width="0.95"/>
<text x="644.4" y="109.6" font-size="7.7" text-anchor="middle" fill="#111" textLength="6.39" lengthAdjust="spacingAndGlyphs">ns</text>
<rect x="663.85" y="101" width="5.7" height="60.8" fill="url(#pk)" stroke="#000" stroke-width="1.1"/>
<circle cx="665.1" cy="100.9" r="1.8" fill="#000"/>
<circle cx="668.3" cy="101.1" r="1.8" fill="#000"/>
<circle cx="666.7" cy="100.55" r="1.8" fill="#000"/>
<rect x="674.05" y="88.6" width="5.7" height="73.2" fill="url(#pr)" stroke="#b01218" stroke-width="1.1"/>
<line x1="676.9" y1="84" x2="676.9" y2="88.6" stroke="#b01218" stroke-width="1"/>
<line x1="675.3" y1="84" x2="678.5" y2="84" stroke="#b01218" stroke-width="1"/>
<circle cx="676.9" cy="85.5" r="1.8" fill="#b01218"/>
<circle cx="676.9" cy="90" r="1.8" fill="#b01218"/>
<circle cx="676.9" cy="93.3" r="1.8" fill="#b01218"/>
<path d="M666.7 98.1V75.5H677.4V82.6" fill="none" stroke="#111" stroke-width="0.95"/>
<path d="M664.92 69L664.92 73.6M663.11 70.15L666.74 72.45M663.11 72.45L666.74 70.15" fill="none" stroke="#111" stroke-width="1"/>
<circle cx="664.92" cy="71.3" r="0.85" fill="#111"/>
<path d="M669.67 69L669.67 73.6M667.86 70.15L671.49 72.45M667.86 72.45L671.49 70.15" fill="none" stroke="#111" stroke-width="1"/>
<circle cx="669.67" cy="71.3" r="0.85" fill="#111"/>
<path d="M674.42 69L674.42 73.6M672.61 70.15L676.24 72.45M672.61 72.45L676.24 70.15" fill="none" stroke="#111" stroke-width="1"/>
<circle cx="674.42" cy="71.3" r="0.85" fill="#111"/>
<path d="M679.17 69L679.17 73.6M677.36 70.15L680.99 72.45M677.36 72.45L680.99 70.15" fill="none" stroke="#111" stroke-width="1"/>
<circle cx="679.17" cy="71.3" r="0.85" fill="#111"/>
</g>
<g class="bp">
<line x1="45.6" y1="318.4" x2="45.6" y2="410.8" stroke="#000" stroke-width="1.05"/>
<line x1="42.2" y1="410.3" x2="157.5" y2="410.3" stroke="#000" stroke-width="1.05"/>
<line x1="42.4" y1="318.7" x2="45.6" y2="318.7" stroke="#000" stroke-width="1"/>
<text x="40.4" y="323.59" font-size="10.6" text-anchor="end" fill="#111" textLength="14.19" lengthAdjust="spacingAndGlyphs">500</text>
<line x1="42.4" y1="337.02" x2="45.6" y2="337.02" stroke="#000" stroke-width="1"/>
<text x="40.4" y="341.91" font-size="10.6" text-anchor="end" fill="#111" textLength="14.19" lengthAdjust="spacingAndGlyphs">400</text>
<line x1="42.4" y1="355.34" x2="45.6" y2="355.34" stroke="#000" stroke-width="1"/>
<text x="40.4" y="360.23" font-size="10.6" text-anchor="end" fill="#111" textLength="14.19" lengthAdjust="spacingAndGlyphs">300</text>
<line x1="42.4" y1="373.66" x2="45.6" y2="373.66" stroke="#000" stroke-width="1"/>
<text x="40.4" y="378.55" font-size="10.6" text-anchor="end" fill="#111" textLength="14.19" lengthAdjust="spacingAndGlyphs">200</text>
<line x1="42.4" y1="391.98" x2="45.6" y2="391.98" stroke="#000" stroke-width="1"/>
<text x="40.4" y="396.87" font-size="10.6" text-anchor="end" fill="#111" textLength="14.19" lengthAdjust="spacingAndGlyphs">100</text>
<line x1="42.4" y1="410.3" x2="45.6" y2="410.3" stroke="#000" stroke-width="1"/>
<text x="40.4" y="415.19" font-size="10.6" text-anchor="end" fill="#111" textLength="4.73" lengthAdjust="spacingAndGlyphs">0</text>
<line x1="57.9" y1="410.3" x2="57.9" y2="414.1" stroke="#000" stroke-width="1"/>
<text x="57.9" y="424.3" font-size="10.6" text-anchor="middle" fill="#111" textLength="4.73" lengthAdjust="spacingAndGlyphs">0</text>
<line x1="86.6" y1="410.3" x2="86.6" y2="414.1" stroke="#000" stroke-width="1"/>
<text x="86.6" y="424.3" font-size="10.6" text-anchor="middle" fill="#111" textLength="4.73" lengthAdjust="spacingAndGlyphs">6</text>
<line x1="115.2" y1="410.3" x2="115.2" y2="414.1" stroke="#000" stroke-width="1"/>
<text x="115.2" y="424.3" font-size="10.6" text-anchor="middle" fill="#111" textLength="9.46" lengthAdjust="spacingAndGlyphs">12</text>
<line x1="143.9" y1="410.3" x2="143.9" y2="414.1" stroke="#000" stroke-width="1"/>
<text x="143.9" y="424.3" font-size="10.6" text-anchor="middle" fill="#111" textLength="9.46" lengthAdjust="spacingAndGlyphs">24</text>
<text x="102.4" y="437.9" font-size="10.5" text-anchor="middle" fill="#111" textLength="41.2" lengthAdjust="spacingAndGlyphs">HSV-1 (h)</text>
<text x="20.8" y="292.5" font-size="11.5" fill="#222" class="pl">D)</text>
<text transform="translate(9.3 364) rotate(-90)" font-size="11.2" text-anchor="middle" font-style="italic" textLength="30.6" lengthAdjust="spacingAndGlyphs" class="lt">MX-1</text>
<text transform="translate(19.8 364.3) rotate(-90)" font-size="10.9" text-anchor="middle" textLength="86.1" lengthAdjust="spacingAndGlyphs" class="lt">(Fold change)</text>
<circle cx="53.3" cy="362.8" r="2.1" fill="#000"/>
<circle cx="62.9" cy="362.8" r="2.1" fill="#b01218"/>
<text transform="translate(55.4 357.9) rotate(-90)" font-size="6.4" textLength="31.2" lengthAdjust="spacingAndGlyphs" class="lg">Con-gRNA</text>
<text transform="translate(65 357.9) rotate(-90)" font-size="6.4" font-style="italic" textLength="38.7" lengthAdjust="spacingAndGlyphs" class="lg">TAX1BP1-KO</text>
<rect x="48.6" y="408.5" width="7.8" height="1.8" fill="#000" stroke="none" stroke-width="1"/>
<rect x="59.4" y="408.5" width="7.8" height="1.8" fill="#b01218" stroke="none" stroke-width="1"/>
<path d="M52.5 407.2V403.6H63.7V407.2" fill="none" stroke="#111" stroke-width="0.95"/>
<text x="58.1" y="401.3" font-size="7.7" text-anchor="middle" fill="#111" textLength="6.39" lengthAdjust="spacingAndGlyphs">ns</text>
<rect x="77.85" y="392" width="6.7" height="18.3" fill="url(#pk)" stroke="#000" stroke-width="1.1"/>
<circle cx="79.1" cy="390.7" r="1.8" fill="#000"/>
<circle cx="83.3" cy="390.9" r="1.8" fill="#000"/>
<circle cx="81.2" cy="390.35" r="1.8" fill="#000"/>
<circle cx="81.2" cy="389.5" r="1.8" fill="#000"/>
<rect x="88.65" y="382.2" width="6.7" height="28.1" fill="url(#pr)" stroke="#b01218" stroke-width="1.1"/>
<circle cx="89.9" cy="382" r="1.8" fill="#b01218"/>
<circle cx="94.1" cy="382.2" r="1.8" fill="#b01218"/>
<circle cx="92" cy="381.65" r="1.8" fill="#b01218"/>
<path d="M80.9 387.7V373.3H92.1V380.2" fill="none" stroke="#111" stroke-width="0.95"/>
<text x="86.5" y="371" font-size="7.7" text-anchor="middle" fill="#111" textLength="6.39" lengthAdjust="spacingAndGlyphs">ns</text>
<rect x="106.45" y="389.1" width="6.7" height="21.2" fill="url(#pk)" stroke="#000" stroke-width="1.1"/>
<circle cx="107.7" cy="392.1" r="1.8" fill="#000"/>
<circle cx="111.9" cy="392.3" r="1.8" fill="#000"/>
<circle cx="109.8" cy="391.75" r="1.8" fill="#000"/>
<path d="M109.8 383.1l2.4 4h-4.8z" fill="#000" stroke="none" stroke-width="1"/>
<rect x="117.25" y="348.3" width="6.7" height="62" fill="url(#pr)" stroke="#b01218" stroke-width="1.1"/>
<line x1="120.6" y1="339.2" x2="120.6" y2="348.3" stroke="#b01218" stroke-width="1"/>
<line x1="119" y1="339.2" x2="122.2" y2="339.2" stroke="#b01218" stroke-width="1"/>
<line x1="120.6" y1="348.3" x2="120.6" y2="358.5" stroke="#b01218" stroke-width="1"/>
<path d="M120.6 343.3l2.4 -4h-4.8z" fill="#b01218" stroke="none" stroke-width="1"/>
<circle cx="120.6" cy="349.5" r="1.8" fill="#b01218"/>
<circle cx="120.6" cy="355.5" r="1.8" fill="#b01218"/>
<path d="M109.5 383.2V332.5H120.7V338.8" fill="none" stroke="#111" stroke-width="0.95"/>
<path d="M107.97 326L107.97 330.6M106.16 327.15L109.79 329.45M106.16 329.45L109.79 327.15" fill="none" stroke="#111" stroke-width="1"/>
<circle cx="107.97" cy="328.3" r="0.85" fill="#111"/>
<path d="M112.72 326L112.72 330.6M110.91 327.15L114.54 329.45M110.91 329.45L114.54 327.15" fill="none" stroke="#111" stroke-width="1"/>
<circle cx="112.72" cy="328.3" r="0.85" fill="#111"/>
<path d="M117.47 326L117.47 330.6M115.66 327.15L119.29 329.45M115.66 329.45L119.29 327.15" fill="none" stroke="#111" stroke-width="1"/>
<circle cx="117.47" cy="328.3" r="0.85" fill="#111"/>
<path d="M122.22 326L122.22 330.6M120.41 327.15L124.04 329.45M120.41 329.45L124.04 327.15" fill="none" stroke="#111" stroke-width="1"/>
<circle cx="122.22" cy="328.3" r="0.85" fill="#111"/>
<rect x="135.15" y="393" width="6.7" height="17.3" fill="url(#pk)" stroke="#000" stroke-width="1.1"/>
<circle cx="136.4" cy="392.5" r="1.8" fill="#000"/>
<circle cx="140.6" cy="392.7" r="1.8" fill="#000"/>
<circle cx="138.5" cy="392.15" r="1.8" fill="#000"/>
<circle cx="138.5" cy="391.2" r="1.8" fill="#000"/>
<rect x="145.95" y="383.6" width="6.7" height="26.7" fill="url(#pr)" stroke="#b01218" stroke-width="1.1"/>
<line x1="149.3" y1="375.3" x2="149.3" y2="383.6" stroke="#b01218" stroke-width="1"/>
<line x1="147.7" y1="375.3" x2="150.9" y2="375.3" stroke="#b01218" stroke-width="1"/>
<path d="M149.3 375.2l2.4 4h-4.8z" fill="#b01218" stroke="none" stroke-width="1"/>
<circle cx="147.2" cy="385.1" r="1.8" fill="#b01218"/>
<circle cx="151.4" cy="385.3" r="1.8" fill="#b01218"/>
<circle cx="149.3" cy="384.75" r="1.8" fill="#b01218"/>
<path d="M138.7 390.1V372H149.3V375.9" fill="none" stroke="#111" stroke-width="0.95"/>
<path d="M144 365.5L144 370.1M142.18 366.65L145.82 368.95M142.18 368.95L145.82 366.65" fill="none" stroke="#111" stroke-width="1"/>
<circle cx="144" cy="367.8" r="0.85" fill="#111"/>
</g>
<g class="bp">
<line x1="223.1" y1="319.2" x2="223.1" y2="410.9" stroke="#000" stroke-width="1.05"/>
<line x1="219.5" y1="410.4" x2="334.4" y2="410.4" stroke="#000" stroke-width="1.05"/>
<line x1="219.9" y1="319.6" x2="223.1" y2="319.6" stroke="#000" stroke-width="1"/>
<text x="217.8" y="323.79" font-size="10.3" text-anchor="end" fill="#111" textLength="14.1" lengthAdjust="spacingAndGlyphs">400</text>
<line x1="219.9" y1="342.3" x2="223.1" y2="342.3" stroke="#000" stroke-width="1"/>
<text x="217.8" y="346.49" font-size="10.3" text-anchor="end" fill="#111" textLength="14.1" lengthAdjust="spacingAndGlyphs">300</text>
<line x1="219.9" y1="365" x2="223.1" y2="365" stroke="#000" stroke-width="1"/>
<text x="217.8" y="369.19" font-size="10.3" text-anchor="end" fill="#111" textLength="14.1" lengthAdjust="spacingAndGlyphs">200</text>
<line x1="219.9" y1="387.7" x2="223.1" y2="387.7" stroke="#000" stroke-width="1"/>
<text x="217.8" y="391.89" font-size="10.3" text-anchor="end" fill="#111" textLength="14.1" lengthAdjust="spacingAndGlyphs">100</text>
<line x1="219.9" y1="410.4" x2="223.1" y2="410.4" stroke="#000" stroke-width="1"/>
<text x="217.8" y="414.59" font-size="10.3" text-anchor="end" fill="#111" textLength="4.7" lengthAdjust="spacingAndGlyphs">0</text>
<line x1="235.6" y1="410.4" x2="235.6" y2="414.2" stroke="#000" stroke-width="1"/>
<text x="235.6" y="424.3" font-size="10.6" text-anchor="middle" fill="#111" textLength="4.7" lengthAdjust="spacingAndGlyphs">0</text>
<line x1="264" y1="410.4" x2="264" y2="414.2" stroke="#000" stroke-width="1"/>
<text x="264" y="424.3" font-size="10.6" text-anchor="middle" fill="#111" textLength="4.7" lengthAdjust="spacingAndGlyphs">6</text>
<line x1="292.4" y1="410.4" x2="292.4" y2="414.2" stroke="#000" stroke-width="1"/>
<text x="292.4" y="424.3" font-size="10.6" text-anchor="middle" fill="#111" textLength="9.4" lengthAdjust="spacingAndGlyphs">12</text>
<line x1="320.7" y1="410.4" x2="320.7" y2="414.2" stroke="#000" stroke-width="1"/>
<text x="320.7" y="424.3" font-size="10.6" text-anchor="middle" fill="#111" textLength="9.4" lengthAdjust="spacingAndGlyphs">24</text>
<text x="277.6" y="437.9" font-size="10.5" text-anchor="middle" fill="#111" textLength="41" lengthAdjust="spacingAndGlyphs">HSV-1 (h)</text>
<text x="200" y="292.5" font-size="11.5" fill="#222" class="pl">E)</text>
<text transform="translate(186.3 363) rotate(-90)" font-size="12" text-anchor="middle" font-style="italic" textLength="39.1" lengthAdjust="spacingAndGlyphs" class="lt">ISG15</text>
<text transform="translate(197.1 364.5) rotate(-90)" font-size="10.9" text-anchor="middle" textLength="87.2" lengthAdjust="spacingAndGlyphs" class="lt">(Fold change)</text>
<circle cx="231.5" cy="363.8" r="2.1" fill="#000"/>
<circle cx="241.5" cy="363.8" r="2.1" fill="#b01218"/>
<text transform="translate(233.6 358.9) rotate(-90)" font-size="6.4" textLength="30" lengthAdjust="spacingAndGlyphs" class="lg">Con-gRNA</text>
<text transform="translate(243.6 358.9) rotate(-90)" font-size="6.4" font-style="italic" textLength="38.1" lengthAdjust="spacingAndGlyphs" class="lg">TAX1BP1-KO</text>
<rect x="226.7" y="408.5" width="7.1" height="1.9" fill="#000" stroke="none" stroke-width="1"/>
<rect x="237.4" y="408.5" width="7.1" height="1.9" fill="#b01218" stroke="none" stroke-width="1"/>
<path d="M229.5 408.1V404H240.7V408.1" fill="none" stroke="#111" stroke-width="0.95"/>
<text x="235.1" y="401.7" font-size="7.7" text-anchor="middle" fill="#111" textLength="6.39" lengthAdjust="spacingAndGlyphs">ns</text>
<rect x="255.65" y="403.4" width="6" height="7" fill="url(#pk)" stroke="#000" stroke-width="1.1"/>
<circle cx="256.9" cy="403.1" r="1.8" fill="#000"/>
<circle cx="260.4" cy="403.3" r="1.8" fill="#000"/>
<circle cx="258.65" cy="402.75" r="1.8" fill="#000"/>
<circle cx="258.65" cy="403" r="1.8" fill="#000"/>
<rect x="266.35" y="397.2" width="6" height="13.2" fill="url(#pr)" stroke="#b01218" stroke-width="1.1"/>
<line x1="269.35" y1="391.3" x2="269.35" y2="397.2" stroke="#b01218" stroke-width="1"/>
<line x1="267.75" y1="391.3" x2="270.95" y2="391.3" stroke="#b01218" stroke-width="1"/>
<path d="M269.35 390.7l2.4 4h-4.8z" fill="#b01218" stroke="none" stroke-width="1"/>
<circle cx="267.6" cy="398.9" r="1.8" fill="#b01218"/>
<circle cx="271.1" cy="399.1" r="1.8" fill="#b01218"/>
<circle cx="269.35" cy="398.55" r="1.8" fill="#b01218"/>
<path d="M258.2 400.2V387.2H269.5V391.3" fill="none" stroke="#111" stroke-width="0.95"/>
<text x="263.85" y="384.9" font-size="7.7" text-anchor="middle" fill="#111" textLength="6.39" lengthAdjust="spacingAndGlyphs">ns</text>
<rect x="284.05" y="393.1" width="6" height="17.3" fill="url(#pk)" stroke="#000" stroke-width="1.1"/>
<circle cx="285.3" cy="394.7" r="1.8" fill="#000"/>
<circle cx="288.8" cy="394.9" r="1.8" fill="#000"/>
<circle cx="287.05" cy="394.35" r="1.8" fill="#000"/>
<circle cx="287.05" cy="390.2" r="1.8" fill="#000"/>
<rect x="294.75" y="356" width="6" height="54.4" fill="url(#pr)" stroke="#b01218" stroke-width="1.1"/>
<line x1="297.75" y1="343.9" x2="297.75" y2="356" stroke="#b01218" stroke-width="1"/>
<line x1="296.15" y1="343.9" x2="299.35" y2="343.9" stroke="#b01218" stroke-width="1"/>
<line x1="297.75" y1="356" x2="297.75" y2="369" stroke="#b01218" stroke-width="1"/>
<path d="M297.75 347.8l2.4 -4h-4.8z" fill="#b01218" stroke="none" stroke-width="1"/>
<circle cx="297.75" cy="352.3" r="1.8" fill="#b01218"/>
<circle cx="297.75" cy="367" r="1.8" fill="#b01218"/>
<path d="M287.5 388.5V338.4H298.7V342.6" fill="none" stroke="#111" stroke-width="0.95"/>
<path d="M285.98 331.9L285.98 336.5M284.16 333.05L287.79 335.35M284.16 335.35L287.79 333.05" fill="none" stroke="#111" stroke-width="1"/>
<circle cx="285.98" cy="334.2" r="0.85" fill="#111"/>
<path d="M290.73 331.9L290.73 336.5M288.91 333.05L292.54 335.35M288.91 335.35L292.54 333.05" fill="none" stroke="#111" stroke-width="1"/>
<circle cx="290.73" cy="334.2" r="0.85" fill="#111"/>
<path d="M295.48 331.9L295.48 336.5M293.66 333.05L297.29 335.35M293.66 335.35L297.29 333.05" fill="none" stroke="#111" stroke-width="1"/>
<circle cx="295.48" cy="334.2" r="0.85" fill="#111"/>
<path d="M300.23 331.9L300.23 336.5M298.41 333.05L302.04 335.35M298.41 335.35L302.04 333.05" fill="none" stroke="#111" stroke-width="1"/>
<circle cx="300.23" cy="334.2" r="0.85" fill="#111"/>
<rect x="312.35" y="399.7" width="6" height="10.7" fill="url(#pk)" stroke="#000" stroke-width="1.1"/>
<circle cx="313.6" cy="399.3" r="1.8" fill="#000"/>
<circle cx="317.1" cy="399.5" r="1.8" fill="#000"/>
<circle cx="315.35" cy="398.95" r="1.8" fill="#000"/>
<circle cx="315.35" cy="398.8" r="1.8" fill="#000"/>
<rect x="323.05" y="394.1" width="6" height="16.3" fill="url(#pr)" stroke="#b01218" stroke-width="1.1"/>
<line x1="326.05" y1="389.8" x2="326.05" y2="394.1" stroke="#b01218" stroke-width="1"/>
<line x1="324.45" y1="389.8" x2="327.65" y2="389.8" stroke="#b01218" stroke-width="1"/>
<circle cx="326.05" cy="391.5" r="1.8" fill="#b01218"/>
<circle cx="324.3" cy="395.7" r="1.8" fill="#b01218"/>
<circle cx="327.8" cy="395.9" r="1.8" fill="#b01218"/>
<circle cx="326.05" cy="395.35" r="1.8" fill="#b01218"/>
<path d="M315.4 397.2V385.3H326.2V389.8" fill="none" stroke="#111" stroke-width="0.95"/>
<text x="320.8" y="383" font-size="7.7" text-anchor="middle" fill="#111" textLength="6.39" lengthAdjust="spacingAndGlyphs">ns</text>
</g>
<g class="bp">
<line x1="396.5" y1="317.6" x2="396.5" y2="410.9" stroke="#000" stroke-width="1.05"/>
<line x1="393.1" y1="410.4" x2="506.6" y2="410.4" stroke="#000" stroke-width="1.05"/>
<line x1="393.3" y1="318" x2="396.5" y2="318" stroke="#000" stroke-width="1"/>
<text x="392" y="322.39" font-size="10.6" text-anchor="end" fill="#111" textLength="9.5" lengthAdjust="spacingAndGlyphs">80</text>
<line x1="393.3" y1="341.1" x2="396.5" y2="341.1" stroke="#000" stroke-width="1"/>
<text x="392" y="345.49" font-size="10.6" text-anchor="end" fill="#111" textLength="9.5" lengthAdjust="spacingAndGlyphs">60</text>
<line x1="393.3" y1="364.2" x2="396.5" y2="364.2" stroke="#000" stroke-width="1"/>
<text x="392" y="368.59" font-size="10.6" text-anchor="end" fill="#111" textLength="9.5" lengthAdjust="spacingAndGlyphs">40</text>
<line x1="393.3" y1="387.3" x2="396.5" y2="387.3" stroke="#000" stroke-width="1"/>
<text x="392" y="391.69" font-size="10.6" text-anchor="end" fill="#111" textLength="9.5" lengthAdjust="spacingAndGlyphs">20</text>
<line x1="393.3" y1="410.4" x2="396.5" y2="410.4" stroke="#000" stroke-width="1"/>
<text x="392" y="414.79" font-size="10.6" text-anchor="end" fill="#111" textLength="4.75" lengthAdjust="spacingAndGlyphs">0</text>
<line x1="408.8" y1="410.4" x2="408.8" y2="414.2" stroke="#000" stroke-width="1"/>
<text x="408.8" y="424.3" font-size="10.6" text-anchor="middle" fill="#111" textLength="4.75" lengthAdjust="spacingAndGlyphs">0</text>
<line x1="436.6" y1="410.4" x2="436.6" y2="414.2" stroke="#000" stroke-width="1"/>
<text x="436.6" y="424.3" font-size="10.6" text-anchor="middle" fill="#111" textLength="4.75" lengthAdjust="spacingAndGlyphs">6</text>
<line x1="464.7" y1="410.4" x2="464.7" y2="414.2" stroke="#000" stroke-width="1"/>
<text x="464.7" y="424.3" font-size="10.6" text-anchor="middle" fill="#111" textLength="9.5" lengthAdjust="spacingAndGlyphs">12</text>
<line x1="492.8" y1="410.4" x2="492.8" y2="414.2" stroke="#000" stroke-width="1"/>
<text x="492.8" y="424.3" font-size="10.6" text-anchor="middle" fill="#111" textLength="9.5" lengthAdjust="spacingAndGlyphs">24</text>
<text x="451.5" y="437.9" font-size="10.5" text-anchor="middle" fill="#111" textLength="40.8" lengthAdjust="spacingAndGlyphs">HSV-1 (h)</text>
<text x="373" y="292.5" font-size="11.5" fill="#222" class="pl">F)</text>
<text transform="translate(366.5 362.3) rotate(-90)" font-size="11.2" text-anchor="middle" font-style="italic" textLength="33" lengthAdjust="spacingAndGlyphs" class="lt">IRF7</text>
<text transform="translate(377.4 363.8) rotate(-90)" font-size="10.9" text-anchor="middle" textLength="86.5" lengthAdjust="spacingAndGlyphs" class="lt">(Fold change)</text>
<circle cx="403.7" cy="363.8" r="2.1" fill="#000"/>
<circle cx="414.1" cy="363.8" r="2.1" fill="#b01218"/>
<text transform="translate(405.8 358.9) rotate(-90)" font-size="6.4" textLength="30" lengthAdjust="spacingAndGlyphs" class="lg">Con-gRNA</text>
<text transform="translate(416.2 358.9) rotate(-90)" font-size="6.4" font-style="italic" textLength="38.8" lengthAdjust="spacingAndGlyphs" class="lg">TAX1BP1-KO</text>
<rect x="400" y="408.3" width="6.8" height="2.1" fill="#000" stroke="none" stroke-width="1"/>
<circle cx="401.8" cy="410.1" r="1.8" fill="#000"/>
<circle cx="405" cy="410.3" r="1.8" fill="#000"/>
<circle cx="403.4" cy="409.75" r="1.8" fill="#000"/>
<rect x="410.8" y="408.3" width="6.8" height="2.1" fill="#b01218" stroke="none" stroke-width="1"/>
<circle cx="412.6" cy="410.1" r="1.8" fill="#b01218"/>
<circle cx="415.8" cy="410.3" r="1.8" fill="#b01218"/>
<circle cx="414.2" cy="409.75" r="1.8" fill="#b01218"/>
<path d="M403.3 407.2V402H414.7V407.2" fill="none" stroke="#111" stroke-width="0.95"/>
<text x="409" y="399.7" font-size="7.7" text-anchor="middle" fill="#111" textLength="6.39" lengthAdjust="spacingAndGlyphs">ns</text>
<rect x="428.35" y="392" width="5.7" height="18.4" fill="url(#pk)" stroke="#000" stroke-width="1.1"/>
<circle cx="429.6" cy="394.6" r="1.8" fill="#000"/>
<circle cx="432.8" cy="394.8" r="1.8" fill="#000"/>
<circle cx="431.2" cy="394.25" r="1.8" fill="#000"/>
<path d="M431.2 398.8l2.4 -4h-4.8z" fill="#000" stroke="none" stroke-width="1"/>
<rect x="439.15" y="379.5" width="5.7" height="30.9" fill="url(#pr)" stroke="#b01218" stroke-width="1.1"/>
<line x1="442" y1="370.5" x2="442" y2="379.5" stroke="#b01218" stroke-width="1"/>
<line x1="440.4" y1="370.5" x2="443.6" y2="370.5" stroke="#b01218" stroke-width="1"/>
<line x1="442" y1="379.5" x2="442" y2="388.9" stroke="#b01218" stroke-width="1"/>
<circle cx="442" cy="373.2" r="1.8" fill="#b01218"/>
<circle cx="442" cy="374.7" r="1.8" fill="#b01218"/>
<circle cx="442" cy="387.8" r="1.8" fill="#b01218"/>
<path d="M431.4 391V364.3H442.9V370.5" fill="none" stroke="#111" stroke-width="0.95"/>
<text x="437.15" y="362" font-size="7.7" text-anchor="middle" fill="#111" textLength="6.39" lengthAdjust="spacingAndGlyphs">ns</text>
<rect x="456.45" y="380.5" width="5.7" height="29.9" fill="url(#pk)" stroke="#000" stroke-width="1.1"/>
<line x1="459.3" y1="365.5" x2="459.3" y2="380.5" stroke="#000" stroke-width="1"/>
<line x1="457.7" y1="365.5" x2="460.9" y2="365.5" stroke="#000" stroke-width="1"/>
<line x1="459.3" y1="380.5" x2="459.3" y2="389.5" stroke="#000" stroke-width="1"/>
<path d="M459.3 365.2l2.4 4h-4.8z" fill="#000" stroke="none" stroke-width="1"/>
<circle cx="459.3" cy="384.7" r="1.8" fill="#000"/>
<circle cx="459.3" cy="387.8" r="1.8" fill="#000"/>
<rect x="467.25" y="349.2" width="5.7" height="61.2" fill="url(#pr)" stroke="#b01218" stroke-width="1.1"/>
<line x1="470.1" y1="333" x2="470.1" y2="349.2" stroke="#b01218" stroke-width="1"/>
<line x1="468.5" y1="333" x2="471.7" y2="333" stroke="#b01218" stroke-width="1"/>
<line x1="470.1" y1="349.2" x2="470.1" y2="364" stroke="#b01218" stroke-width="1"/>
<circle cx="470.1" cy="334.5" r="1.8" fill="#b01218"/>
<circle cx="470.1" cy="348.2" r="1.8" fill="#b01218"/>
<circle cx="470.1" cy="363.8" r="1.8" fill="#b01218"/>
<path d="M460 364.9V327.3H470.4V332.5" fill="none" stroke="#111" stroke-width="0.95"/>
<path d="M462.82 320.8L462.82 325.4M461.01 321.95L464.64 324.25M461.01 324.25L464.64 321.95" fill="none" stroke="#111" stroke-width="1"/>
<circle cx="462.82" cy="323.1" r="0.85" fill="#111"/>
<path d="M467.57 320.8L467.57 325.4M465.76 321.95L469.39 324.25M465.76 324.25L469.39 321.95" fill="none" stroke="#111" stroke-width="1"/>
<circle cx="467.57" cy="323.1" r="0.85" fill="#111"/>
<rect x="484.55" y="371.1" width="5.7" height="39.3" fill="url(#pk)" stroke="#000" stroke-width="1.1"/>
<line x1="487.4" y1="362.8" x2="487.4" y2="371.1" stroke="#000" stroke-width="1"/>
<line x1="485.8" y1="362.8" x2="489" y2="362.8" stroke="#000" stroke-width="1"/>
<line x1="487.4" y1="371.1" x2="487.4" y2="380" stroke="#000" stroke-width="1"/>
<path d="M487.4 366.8l2.4 -4h-4.8z" fill="#000" stroke="none" stroke-width="1"/>
<circle cx="487.4" cy="372.2" r="1.8" fill="#000"/>
<circle cx="487.4" cy="379.5" r="1.8" fill="#000"/>
<rect x="495.35" y="357.2" width="5.7" height="53.2" fill="url(#pr)" stroke="#b01218" stroke-width="1.1"/>
<line x1="498.2" y1="345.5" x2="498.2" y2="357.2" stroke="#b01218" stroke-width="1"/>
<line x1="496.6" y1="345.5" x2="499.8" y2="345.5" stroke="#b01218" stroke-width="1"/>
<line x1="498.2" y1="357.2" x2="498.2" y2="366" stroke="#b01218" stroke-width="1"/>
<path d="M498.2 345.2l2.4 4h-4.8z" fill="#b01218" stroke="none" stroke-width="1"/>
<circle cx="498.2" cy="358.6" r="1.8" fill="#b01218"/>
<circle cx="498.2" cy="364.9" r="1.8" fill="#b01218"/>
<path d="M488.4 361.8V340.9H498.8V345" fill="none" stroke="#111" stroke-width="0.95"/>
<text x="493.6" y="338.6" font-size="7.7" text-anchor="middle" fill="#111" textLength="6.39" lengthAdjust="spacingAndGlyphs">ns</text>
</g>
<g class="bp">
<line x1="572.2" y1="319.5" x2="572.2" y2="410.9" stroke="#000" stroke-width="1.05"/>
<line x1="569" y1="410.4" x2="684.5" y2="410.4" stroke="#000" stroke-width="1.05"/>
<line x1="569" y1="319.9" x2="572.2" y2="319.9" stroke="#000" stroke-width="1"/>
<text x="567" y="323.89" font-size="10.6" text-anchor="end" fill="#111" textLength="13.8" lengthAdjust="spacingAndGlyphs">250</text>
<line x1="569" y1="338" x2="572.2" y2="338" stroke="#000" stroke-width="1"/>
<text x="567" y="341.99" font-size="10.6" text-anchor="end" fill="#111" textLength="13.8" lengthAdjust="spacingAndGlyphs">200</text>
<line x1="569" y1="356.1" x2="572.2" y2="356.1" stroke="#000" stroke-width="1"/>
<text x="567" y="360.09" font-size="10.6" text-anchor="end" fill="#111" textLength="13.8" lengthAdjust="spacingAndGlyphs">150</text>
<line x1="569" y1="374.2" x2="572.2" y2="374.2" stroke="#000" stroke-width="1"/>
<text x="567" y="378.19" font-size="10.6" text-anchor="end" fill="#111" textLength="13.8" lengthAdjust="spacingAndGlyphs">100</text>
<line x1="569" y1="392.3" x2="572.2" y2="392.3" stroke="#000" stroke-width="1"/>
<text x="567" y="396.29" font-size="10.6" text-anchor="end" fill="#111" textLength="9.2" lengthAdjust="spacingAndGlyphs">50</text>
<line x1="569" y1="410.4" x2="572.2" y2="410.4" stroke="#000" stroke-width="1"/>
<text x="567" y="414.39" font-size="10.6" text-anchor="end" fill="#111" textLength="4.6" lengthAdjust="spacingAndGlyphs">0</text>
<line x1="584.5" y1="410.4" x2="584.5" y2="414.2" stroke="#000" stroke-width="1"/>
<text x="584.5" y="424.3" font-size="10.6" text-anchor="middle" fill="#111" textLength="4.6" lengthAdjust="spacingAndGlyphs">0</text>
<line x1="612.5" y1="410.4" x2="612.5" y2="414.2" stroke="#000" stroke-width="1"/>
<text x="612.5" y="424.3" font-size="10.6" text-anchor="middle" fill="#111" textLength="4.6" lengthAdjust="spacingAndGlyphs">6</text>
<line x1="641.4" y1="410.4" x2="641.4" y2="414.2" stroke="#000" stroke-width="1"/>
<text x="641.4" y="424.3" font-size="10.6" text-anchor="middle" fill="#111" textLength="9.2" lengthAdjust="spacingAndGlyphs">12</text>
<line x1="670.2" y1="410.4" x2="670.2" y2="414.2" stroke="#000" stroke-width="1"/>
<text x="670.2" y="424.3" font-size="10.6" text-anchor="middle" fill="#111" textLength="9.2" lengthAdjust="spacingAndGlyphs">24</text>
<text x="626.9" y="437.9" font-size="10.5" text-anchor="middle" fill="#111" textLength="41.4" lengthAdjust="spacingAndGlyphs">HSV-1 (h)</text>
<text x="545.4" y="292.5" font-size="11.5" fill="#222" class="pl">G)</text>
<text transform="translate(536.5 362.9) rotate(-90)" font-size="11.2" text-anchor="middle" font-style="italic" textLength="36.3" lengthAdjust="spacingAndGlyphs" class="lt">IFN-α4</text>
<text transform="translate(548.4 363.8) rotate(-90)" font-size="10.9" text-anchor="middle" textLength="86.5" lengthAdjust="spacingAndGlyphs" class="lt">(Fold change)</text>
<circle cx="579.8" cy="363.8" r="2.1" fill="#000"/>
<circle cx="589.5" cy="363.8" r="2.1" fill="#b01218"/>
<text transform="translate(581.9 358.9) rotate(-90)" font-size="6.4" textLength="30" lengthAdjust="spacingAndGlyphs" class="lg">Con-gRNA</text>
<text transform="translate(591.6 358.9) rotate(-90)" font-size="6.4" font-style="italic" textLength="38.8" lengthAdjust="spacingAndGlyphs" class="lg">TAX1BP1-KO</text>
<rect x="575.7" y="408.5" width="7" height="1.9" fill="#000" stroke="none" stroke-width="1"/>
<rect x="586.3" y="408.5" width="7" height="1.9" fill="#b01218" stroke="none" stroke-width="1"/>
<path d="M579.2 407.7V403.4H589.9V407.7" fill="none" stroke="#111" stroke-width="0.95"/>
<text x="584.55" y="401.1" font-size="7.7" text-anchor="middle" fill="#111" textLength="6.39" lengthAdjust="spacingAndGlyphs">ns</text>
<rect x="604.25" y="407.4" width="5.9" height="3" fill="url(#pk)" stroke="#000" stroke-width="1.1"/>
<circle cx="605.5" cy="407.5" r="1.8" fill="#000"/>
<circle cx="608.9" cy="407.7" r="1.8" fill="#000"/>
<circle cx="607.2" cy="407.15" r="1.8" fill="#000"/>
<rect x="614.85" y="403.7" width="5.9" height="6.7" fill="url(#pr)" stroke="#b01218" stroke-width="1.1"/>
<circle cx="616.1" cy="404.1" r="1.8" fill="#b01218"/>
<circle cx="619.5" cy="404.3" r="1.8" fill="#b01218"/>
<circle cx="617.8" cy="403.75" r="1.8" fill="#b01218"/>
<path d="M607.7 404.9V397.5H618.8V402.1" fill="none" stroke="#111" stroke-width="0.95"/>
<text x="613.25" y="395.2" font-size="7.7" text-anchor="middle" fill="#111" textLength="6.39" lengthAdjust="spacingAndGlyphs">ns</text>
<rect x="633.15" y="392.2" width="5.9" height="18.2" fill="url(#pk)" stroke="#000" stroke-width="1.1"/>
<line x1="636.1" y1="384" x2="636.1" y2="392.2" stroke="#000" stroke-width="1"/>
<line x1="634.5" y1="384" x2="637.7" y2="384" stroke="#000" stroke-width="1"/>
<path d="M636.1 383.2l2.4 4h-4.8z" fill="#000" stroke="none" stroke-width="1"/>
<circle cx="634.4" cy="395.1" r="1.8" fill="#000"/>
<circle cx="637.8" cy="395.3" r="1.8" fill="#000"/>
<circle cx="636.1" cy="394.75" r="1.8" fill="#000"/>
<rect x="643.75" y="341.3" width="5.9" height="69.1" fill="url(#pr)" stroke="#b01218" stroke-width="1.1"/>
<line x1="646.7" y1="325" x2="646.7" y2="341.3" stroke="#b01218" stroke-width="1"/>
<line x1="645.1" y1="325" x2="648.3" y2="325" stroke="#b01218" stroke-width="1"/>
<line x1="646.7" y1="341.3" x2="646.7" y2="354" stroke="#b01218" stroke-width="1"/>
<path d="M646.7 324.7l2.4 4h-4.8z" fill="#b01218" stroke="none" stroke-width="1"/>
<circle cx="646.7" cy="344.7" r="1.8" fill="#b01218"/>
<circle cx="646.7" cy="351.2" r="1.8" fill="#b01218"/>
<path d="M636.9 383.6V320.4H647.1V325" fill="none" stroke="#111" stroke-width="0.95"/>
<path d="M634.88 313.9L634.88 318.5M633.06 315.05L636.69 317.35M633.06 317.35L636.69 315.05" fill="none" stroke="#111" stroke-width="1"/>
<circle cx="634.88" cy="316.2" r="0.85" fill="#111"/>
<path d="M639.62 313.9L639.62 318.5M637.81 315.05L641.44 317.35M637.81 317.35L641.44 315.05" fill="none" stroke="#111" stroke-width="1"/>
<circle cx="639.62" cy="316.2" r="0.85" fill="#111"/>
<path d="M644.38 313.9L644.38 318.5M642.56 315.05L646.19 317.35M642.56 317.35L646.19 315.05" fill="none" stroke="#111" stroke-width="1"/>
<circle cx="644.38" cy="316.2" r="0.85" fill="#111"/>
<path d="M649.12 313.9L649.12 318.5M647.31 315.05L650.94 317.35M647.31 317.35L650.94 315.05" fill="none" stroke="#111" stroke-width="1"/>
<circle cx="649.12" cy="316.2" r="0.85" fill="#111"/>
<rect x="661.95" y="396.1" width="5.9" height="14.3" fill="url(#pk)" stroke="#000" stroke-width="1.1"/>
<circle cx="663.2" cy="396.4" r="1.8" fill="#000"/>
<circle cx="666.6" cy="396.6" r="1.8" fill="#000"/>
<circle cx="664.9" cy="396.05" r="1.8" fill="#000"/>
<rect x="672.55" y="385.2" width="5.9" height="25.2" fill="url(#pr)" stroke="#b01218" stroke-width="1.1"/>
<circle cx="673.8" cy="385.1" r="1.8" fill="#b01218"/>
<circle cx="677.2" cy="385.3" r="1.8" fill="#b01218"/>
<circle cx="675.5" cy="384.75" r="1.8" fill="#b01218"/>
<path d="M664.7 394.5V377.6H675.5V382.9" fill="none" stroke="#111" stroke-width="0.95"/>
<text x="670.1" y="375.3" font-size="7.7" text-anchor="middle" fill="#111" textLength="6.39" lengthAdjust="spacingAndGlyphs">ns</text>
</g>
</svg></body></html>
